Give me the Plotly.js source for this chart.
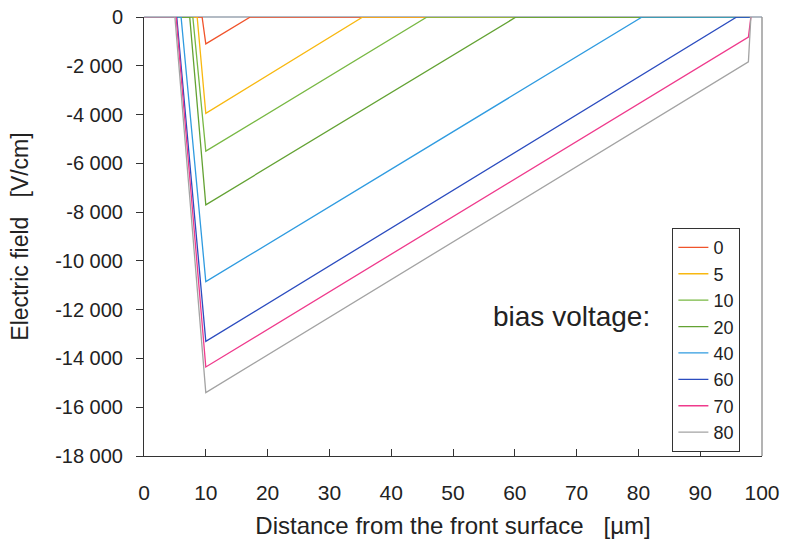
<!DOCTYPE html>
<html>
<head>
<meta charset="utf-8">
<script src="https://cdn.plot.ly/plotly-3.0.1.min.js"></script>
<style>html,body{margin:0;padding:0;background:#fff;}#chart{width:785px;height:539px;}</style>
</head>
<body>
<div id="chart"></div>
<script>
// Bias voltages (legend labels)
var biasLabels = ['0', '5', '10', '20', '40', '60', '70', '80'];
var colors = ['#f0532b', '#f8b810', '#78b843', '#63a233', '#2f9be0', '#2b4cbf', '#ef3a8c', '#a3a3a3'];

// Distance from front surface [um] and electric field [V/cm] for each bias
var x0  = [0, 9.4, 10, 17.2, 98];    var y0  = [0, 0, -1100, 0, 0];
var x5  = [0, 8.6, 10, 35.4, 98];    var y5  = [0, 0, -3950, 0, 0];
var x10 = [0, 7.9, 10, 45.8, 98];    var y10 = [0, 0, -5500, 0, 0];
var x20 = [0, 7.4, 10, 60.2, 98];    var y20 = [0, 0, -7700, 0, 0];
var x40 = [0, 6.0, 10, 80.6, 98];    var y40 = [0, 0, -10850, 0, 0];
var x60 = [0, 5.3, 10, 95.9, 98];    var y60 = [0, 0, -13300, 0, 0];
var x70 = [0, 5.2, 10, 97.8, 98.2];  var y70 = [0, 0, -14350, -820, 0];
var x80 = [0, 5.0, 10, 97.8, 98.2];  var y80 = [0, 0, -15400, -1840, 0];

var xs = [x0, x5, x10, x20, x40, x60, x70, x80];
var ys = [y0, y5, y10, y20, y40, y60, y70, y80];

// Axis ticks
var yTickVals = [0, -2000, -4000, -6000, -8000, -10000, -12000, -14000, -16000, -18000];
var yTickText = ['0', '-2 000', '-4 000', '-6 000', '-8 000', '-10 000', '-12 000', '-14 000', '-16 000', '-18 000'];
var xTickVals = [0, 10, 20, 30, 40, 50, 60, 70, 80, 90, 100];

var traces = biasLabels.map(function (lab, i) {
  return {
    x: xs[i], y: ys[i], name: lab, type: 'scatter', mode: 'lines',
    line: {color: colors[i], width: 1.3},
    cliponaxis: false
  };
});

var FONT = 'Liberation Sans, Arial, sans-serif';
var layout = {
  width: 785, height: 539,
  margin: {l: 144, r: 23, t: 17, b: 83},
  paper_bgcolor: '#fff', plot_bgcolor: '#fff',
  font: {family: FONT, color: '#222'},
  showlegend: true,
  legend: {
    x: 0.855, y: 0.519, xanchor: 'left', yanchor: 'top',
    bordercolor: '#333', borderwidth: 1, bgcolor: '#fff',
    font: {family: FONT, size: 18, color: '#222'},
    itemwidth: 30, tracegroupgap: 0
  },
  xaxis: {
    range: [0, 100], tickvals: xTickVals, ticks: 'inside', ticklen: 7, tickcolor: '#333',
    showline: true, linecolor: '#333', linewidth: 1, showgrid: false, zeroline: false,
    tickfont: {family: FONT, size: 21, color: '#222'}, ticklabelstandoff: 18,
    title: {text: 'Distance from the front surface\u00a0\u00a0\u00a0[\u00b5m]', font: {family: FONT, size: 24, color: '#222'}, standoff: 13},
    automargin: false
  },
  yaxis: {
    range: [-18000, 0], tickvals: yTickVals, ticktext: yTickText, ticks: 'outside', ticklen: 7, tickcolor: '#333',
    showline: true, linecolor: '#333', linewidth: 1, showgrid: false, zeroline: false,
    tickfont: {family: FONT, size: 20, color: '#222'}, ticklabelstandoff: 9,
    title: {text: 'Electric field\u00a0\u00a0\u00a0[V/cm]', font: {family: FONT, size: 23, color: '#222'}, standoff: 20},
    automargin: false
  },
  shapes: [
    {type: 'line', xref: 'paper', yref: 'paper', x0: 0, x1: 1, y0: 1, y1: 1, line: {color: '#9aa5b0', width: 1.5}, layer: 'below'},
    {type: 'line', xref: 'paper', yref: 'paper', x0: 1, x1: 1, y0: 0, y1: 1, line: {color: '#9a9a9a', width: 1.5}, layer: 'below'}
  ],
  annotations: [
    {text: 'bias voltage:', xref: 'paper', yref: 'paper', x: 0.822, y: 0.317, xanchor: 'right', yanchor: 'middle',
     showarrow: false, font: {family: FONT, size: 28, color: '#222'}}
  ]
};

Plotly.newPlot('chart', traces, layout, {displayModeBar: false, staticPlot: true});
</script>
</body>
</html>
